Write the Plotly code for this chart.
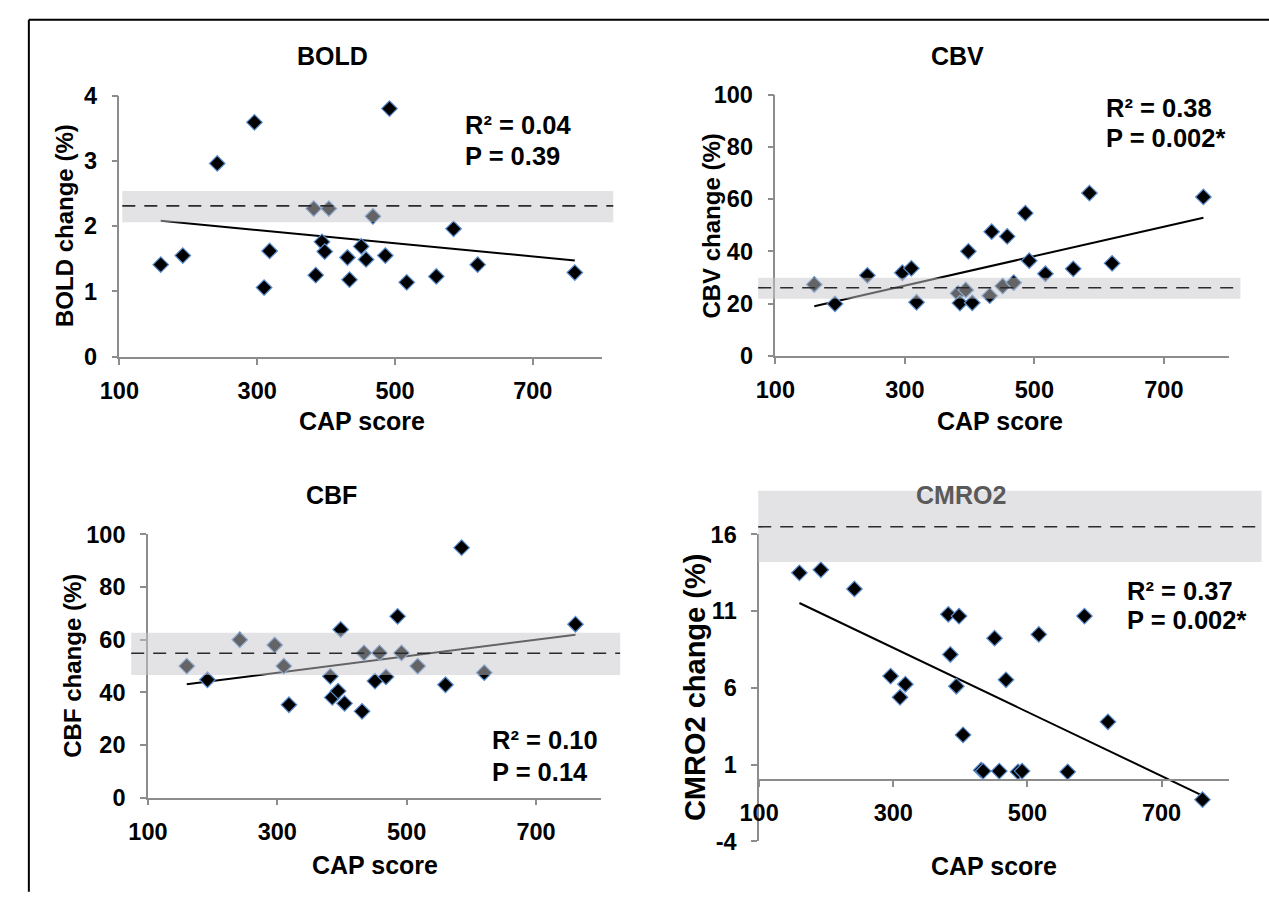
import numpy as np
import plotly.graph_objects as go

W, H = 1269, 900
FONT = "Liberation Sans, Arial, sans-serif"

# ---------------- data ----------------
cap_score = [160, 192, 242, 296, 310, 318, 382, 385, 394, 398, 404, 431,
             434, 451, 458, 468, 486, 492, 517, 560, 585, 620, 761]
bold_change = [1.41, 1.55, 2.96, 3.59, 1.06, 1.62, 2.27, 1.25, 1.76, 1.61, 2.27, 1.52,
               1.18, 1.69, 1.49, 2.15, 1.55, 3.80, 1.14, 1.23, 1.96, 1.41, 1.29]
cbv_change = [27.3, 19.9, 30.8, 31.8, 33.5, 20.5, 23.9, 20.2, 25.2, 40.0, 20.3, 23.0,
              47.5, 26.7, 45.7, 28.0, 54.6, 36.4, 31.4, 33.3, 62.3, 35.4, 60.8]
cbf_change = [50.0, 44.8, 60.0, 58.0, 50.0, 35.3, 46.1, 38.1, 40.5, 63.9, 35.8, 32.8,
              55.0, 44.3, 55.0, 45.9, 68.9, 55.0, 50.0, 42.9, 95.0, 47.5, 65.9]
cmro2_change = [13.5, 13.7, 12.45, 6.77, 5.39, 6.24, 10.8, 8.18, 6.11, 10.68, 2.94, 0.64,
                0.58, 9.24, 0.58, 6.53, 0.53, 0.58, 9.49, 0.53, 10.68, 3.79, -1.28]

panel_titles = ["BOLD", "CBV", "CBF", "CMRO2"]
y_titles = ["BOLD change (%)", "CBV change (%)", "CBF change (%)", "CMRO2 change (%)"]
x_title = "CAP score"
r2_text = ["R² = 0.04", "R² = 0.38", "R² = 0.10", "R² = 0.37"]
p_text = ["P = 0.39", "P = 0.002*", "P = 0.14", "P = 0.002*"]

# control reference (mean and band)
ref_mean = [2.31, 26.05, 54.85, 16.5]
ref_low = [2.06, 21.8, 46.6, 14.2]
ref_high = [2.54, 29.9, 62.7, 18.85]

x_range = [100, 800]
x_ticks = [100, 300, 500, 700]
y_ranges = [[0, 4], [0, 100], [0, 100], [-4, 16]]
y_ticks = [[0, 1, 2, 3, 4], [0, 20, 40, 60, 80, 100], [0, 20, 40, 60, 80, 100],
           [-4, 1, 6, 11, 16]]
series = [bold_change, cbv_change, cbf_change, cmro2_change]

# ---------------- layout (pixels) ----------------
xdoms = [(101, 591), (767.5, 1228), (130, 590), (751, 1228)]
ydoms = [(85, 354), (84, 353), (537, 808), (537, 853)]
title_pos = [(318, 44), (953, 44), (316, 496), (956, 496)]
ytitle_pos = [(45, 219), (703, 219), (53, 672), (686, 695)]
ytitle_size = [24, 24, 24, 29]
xtitle_pos = [(347, 420), (996, 420), (361, 877), (990, 878)]
stat_pos = [(450, 115), (1101, 98), (478, 749), (1123, 595)]
stat_gap = [32, 31, 33, 30]
band_x = [(0.006, 1.024), (-0.038, 1.026), (-0.037, 1.043), (-0.002, 1.07)]
title_colors = ["black", "black", "black", "#5a5a5a"]


def fx(p):
    return p / W


def fy(p):
    return 1 - p / H


def to_dom(v, rng):
    return (v - rng[0]) / (rng[1] - rng[0])


fig = go.Figure()
layout = dict(width=W, height=H, margin=dict(l=0, r=0, t=0, b=0),
              paper_bgcolor="white", plot_bgcolor="white", showlegend=False,
              font=dict(family=FONT, color="black"))
shapes = []
annotations = []

axis_color = "#8c8c8c"
tickfont = dict(family=FONT, size=23.5, color="black", weight="bold")


def label(text, pos, size, color="black", angle=0, xanchor="center"):
    return dict(text=text, x=fx(pos[0]), y=fy(pos[1]), xref="paper", yref="paper",
                showarrow=False, textangle=angle, xanchor=xanchor, yanchor="middle",
                font=dict(family=FONT, size=size, color=color, weight="bold"))


for i in range(4):
    n = "" if i == 0 else str(i + 1)
    xa, ya = "x" + n, "y" + n
    xd = [fx(xdoms[i][0]), fx(xdoms[i][1])]
    yd = [fy(ydoms[i][1]), fy(ydoms[i][0])]
    xaxis = dict(domain=xd, range=x_range, tickvals=x_ticks,
                 ticktext=[str(v) for v in x_ticks], showgrid=False,
                 zeroline=False, showline=True, linecolor=axis_color, linewidth=1.5,
                 ticks="outside", ticklen=6, tickwidth=1.5, tickcolor=axis_color,
                 tickfont=tickfont, anchor=ya, ticklabelstandoff=6)
    yr = y_ranges[i]
    if yr[0] < 0:
        # horizontal axis crosses at zero
        pos = yd[0] + to_dom(0, yr) * (yd[1] - yd[0])
        xaxis.update(anchor="free", position=pos)
    yaxis = dict(domain=yd, range=yr, tickvals=y_ticks[i],
                 ticktext=[str(v) for v in y_ticks[i]], showgrid=False,
                 zeroline=False, showline=True, linecolor=axis_color, linewidth=1.5,
                 ticks="outside", ticklen=6, tickwidth=1.5, tickcolor=axis_color,
                 tickfont=tickfont, anchor=xa, ticklabelstandoff=10)
    layout["xaxis" + n] = xaxis
    layout["yaxis" + n] = yaxis

    yv = np.array(series[i], dtype=float)
    xv = np.array(cap_score, dtype=float)
    slope, icpt = np.polyfit(xv, yv, 1)
    xl = np.array([xv.min(), xv.max()])
    fig.add_trace(go.Scatter(x=xl, y=slope * xl + icpt, mode="lines",
                             line=dict(color="black", width=2),
                             xaxis=xa, yaxis=ya, hoverinfo="skip"))
    fig.add_trace(go.Scatter(x=cap_score, y=series[i], mode="markers",
                             marker=dict(symbol="diamond", size=12, color="black",
                                         line=dict(color="#5b8fd0", width=1.2)),
                             xaxis=xa, yaxis=ya))

    # control band (semi-transparent, above the data) and mean dashed line
    shapes.append(dict(type="rect", xref=xa + " domain", yref=ya + " domain",
                       x0=band_x[i][0], x1=band_x[i][1],
                       y0=to_dom(ref_low[i], yr), y1=to_dom(ref_high[i], yr),
                       fillcolor="rgb(200,200,203)", opacity=0.5, line=dict(width=0),
                       layer="above"))
    shapes.append(dict(type="line", xref=xa + " domain", yref=ya + " domain",
                       x0=band_x[i][0], x1=band_x[i][1],
                       y0=to_dom(ref_mean[i], yr), y1=to_dom(ref_mean[i], yr),
                       line=dict(color="#2b2b2b", width=1.6, dash="13px,9px"),
                       layer="above"))

    annotations.append(label(panel_titles[i], title_pos[i], 25, title_colors[i]))
    annotations.append(label(y_titles[i], ytitle_pos[i], ytitle_size[i], angle=-90))
    annotations.append(label(x_title, xtitle_pos[i], 25))
    annotations.append(label(r2_text[i], stat_pos[i], 25.5, xanchor="left"))
    annotations.append(label(p_text[i], (stat_pos[i][0], stat_pos[i][1] + stat_gap[i]),
                             25.5, xanchor="left"))

# outer frame (left and top edges are visible)
shapes.append(dict(type="line", xref="paper", yref="paper",
                   x0=fx(9), x1=fx(1275), y0=fy(7), y1=fy(7),
                   line=dict(color="black", width=2)))
shapes.append(dict(type="line", xref="paper", yref="paper",
                   x0=fx(9), x1=fx(9), y0=fy(7), y1=fy(905),
                   line=dict(color="black", width=2)))

layout["shapes"] = shapes
layout["annotations"] = annotations
fig.update_layout(**layout)
fig.write_html("out.html", config={"displayModeBar": False},
               post_script="document.body.style.margin='0px';")
